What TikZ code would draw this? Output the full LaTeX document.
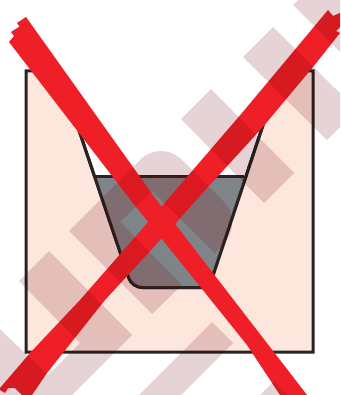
\documentclass[tikz,border=0pt]{standalone}
\usepackage{xcolor}
\usepackage{tikz}
\usetikzlibrary{
  calc,
  backgrounds
}
\definecolor{isPink}{HTML}{FDE6DC}
\definecolor{isLine}{HTML}{2B2322}
\definecolor{isWater}{HTML}{7F8488}
\definecolor{isMauve}{HTML}{E6D3D6}
\definecolor{isCross}{HTML}{EF1F27}
\definecolor{isWarm}{HTML}{180000}
\newcommand{\archpath}{(69,231) [rounded corners=29pt] -- (161,139) -- (244,222) [sharp corners] -- (215,253) -- (152,191) -- (120,222) -- (182,285) -- (152,314) -- cycle}
\newcommand{\waterpath}{(95.6,176) -- (244.4,176) -- (209,287.5) [rounded corners=10pt] -- (132,287.5) [sharp corners] -- cycle}
\tikzset{
  wallshape/.style={draw=isLine, line width=3pt, line join=miter, fill=isPink},
  waterfill/.style={fill=isWater},
  cupline/.style={draw=isLine, line width=3pt},
  crossbar/.style={fill=isCross},
  stripe/.style={fill=isMauve}
}
\begin{document}
\begin{tikzpicture}[x=1pt, y=-1pt]
  \useasboundingbox (0,0) rectangle (340,395);
  \clip (0,0) rectangle (340,395);
  % cup and wall
  \path[wallshape] (59,71) -- (26,71) -- (26,352) -- (313,352) -- (313,71) -- (281,71) -- (209,287.5) [rounded corners=10pt] -- (132,287.5) [sharp corners] -- cycle;
  \path[waterfill] \waterpath;
  \path[cupline] (281,71) -- (209,287.5) [rounded corners=10pt] -- (132,287.5) [sharp corners] -- (59,71);
  \path[cupline] (95.6,176) -- (244.4,176);
  % red cross
  \path[crossbar] (26,17) -- (17,23) -- (19.5,26.5) -- (11,32) -- (14,36) -- (9,42) -- (129,198) -- (247,345) -- (280,395) -- (307,395) -- (155,198) -- cycle;
  \path[crossbar] (328,10) -- (333,16) -- (340,13) -- (340,27) -- (336,31) -- (340,33) -- (313,67) -- (262,128) -- (198,198) -- (175,224) -- (105,300) -- (47,373) -- (32,395) -- (22,395) -- (15,388) -- (8,388) -- (5,393) -- (0,390) -- (0,388) -- (30,353) -- (80,300) -- (150,220) -- (242,113) -- cycle;
  % stripes
  \begin{scope}[blend mode=multiply]
    \path[stripe] (273,27) -- (357,110) -- (327,140) -- (243,57) -- cycle;
    \path[stripe] (211,89) -- (294,173) -- (264,203) -- (181,119) -- cycle;
    \path[stripe] \archpath;
    \path[stripe] (49,251) -- (132,335) -- (31,436) -- (-40,366) -- (-15,315) -- (48,375) -- (80,343) -- (19,281) -- cycle;
    \path[stripe] (212,322) -- (233,343) -- (170,406) -- (128,406) -- cycle;
    \path[stripe] (260,395) -- (273.5,381.5) -- (287,395) -- cycle;
    \path[stripe] (298,0) -- (293,5) -- (340,52) -- (340,0) -- cycle;
  \end{scope}
  % warmer tone where the arch lies over the water
  \begin{scope}[blend mode=screen]
    \clip \waterpath;
    \path[fill=isWarm] \archpath;
  \end{scope}
\end{tikzpicture}
\end{document}
